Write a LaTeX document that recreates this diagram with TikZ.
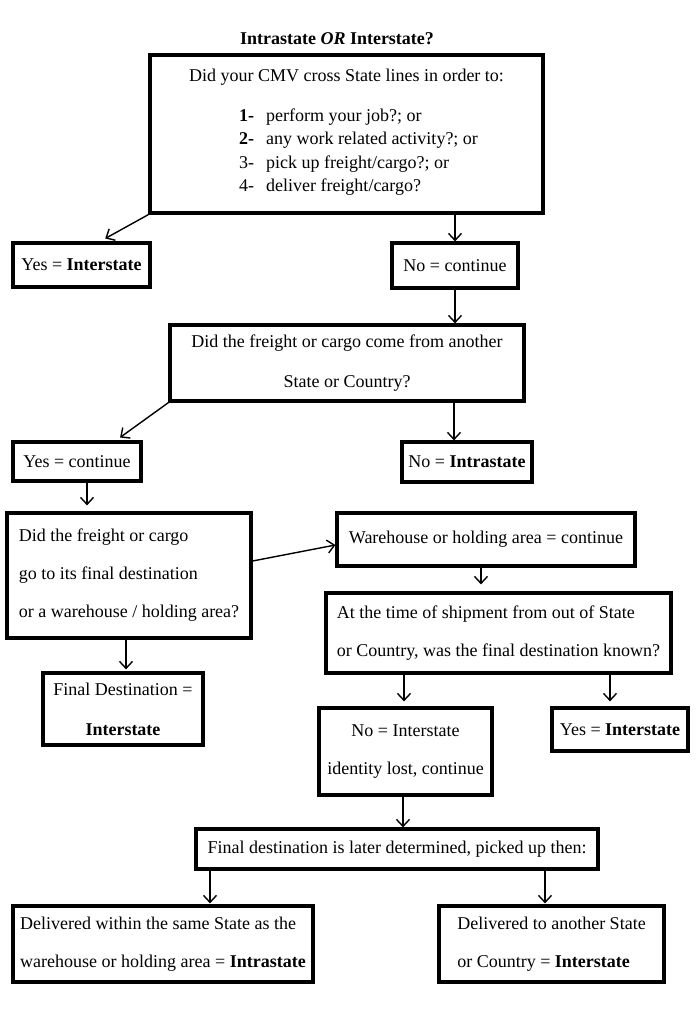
\documentclass[tikz,border=0pt]{standalone}
\usepackage{fontspec}
\setmainfont{Liberation Serif}
\usetikzlibrary{arrows.meta}
\begin{document}
\begin{tikzpicture}[x=1pt,y=-1pt,
  box/.style={draw=black, line width=3.2pt, inner sep=0pt, font=\fontsize{18}{38}\selectfont},
  conn/.style={line width=1.4pt, -{Straight Barb[length=7pt,width=13pt]}},
  ttl/.style={font=\fontsize{18}{22}\selectfont\bfseries}
]
\useasboundingbox (0,0) rectangle (700,1021);

\node[ttl] (title) at (337,39) {Intrastate \textit{OR} Interstate?};

\node[box, minimum width=393pt, minimum height=158pt, align=center,
      font=\fontsize{18}{23.5}\selectfont] (b1) at (346.5,134)
  {Did your CMV cross State lines in order to:\\[16.5pt]
   \hspace*{24pt}\begin{tabular}[t]{@{}l@{\hspace{12pt}}l@{}}
   \textbf{1-} & perform your job?; or\\
   \textbf{2-} & any work related activity?; or\\
   3- & pick up freight/cargo?; or\\
   4- & deliver freight/cargo?
   \end{tabular}};

\node[box, minimum width=137pt, minimum height=44pt] (yes1) at (81.5,265) {Yes = \textbf{Interstate}};
\node[box, minimum width=126pt, minimum height=45pt] (no1) at (455,265.5) {No = continue};

\node[box, minimum width=354pt, minimum height=76pt, align=center,
      font=\fontsize{18}{40}\selectfont] (q2) at (347,363)
  {Did the freight or cargo come from another\\State or Country?};

\node[box, minimum width=128pt, minimum height=39pt] (yes2) at (77,461.5) {Yes = continue};
\node[box, minimum width=130pt, minimum height=40pt] (no2) at (467,462) {No = \textbf{Intrastate}};

\node[box, minimum width=244pt, minimum height=125pt, align=left] (q3) at (129,575.5)
  {Did the freight or cargo\\go to its final destination\\or a warehouse / holding area?};

\node[box, minimum width=298pt, minimum height=53pt] (wh) at (486,539.5) {Warehouse or holding area = continue};

\node[box, minimum width=345pt, minimum height=80pt, align=left] (q4) at (498.5,633)
  {At the time of shipment from out of State\\or Country, was the final destination known?};

\node[box, minimum width=160pt, minimum height=72pt, align=center,
      font=\fontsize{18}{40}\selectfont] (fd) at (123,709)
  {Final Destination =\\\textbf{Interstate}};

\node[box, minimum width=173pt, minimum height=87pt, align=center] (no3) at (405.5,751.5)
  {No = Interstate\\identity lost, continue};
\node[box, minimum width=136pt, minimum height=43pt] (yes3) at (620,729.5) {Yes = \textbf{Interstate}};

\node[box, minimum width=402pt, minimum height=40pt] (q5) at (397,849)
  {Final destination is later determined, picked up then:};

\node[box, minimum width=300pt, minimum height=76pt, align=left] (d1) at (163,944)
  {Delivered within the same State as the\\warehouse or holding area = \textbf{Intrastate}};
\node[box, minimum width=225pt, minimum height=76pt, align=left] (d2) at (551.5,944)
  {Delivered to another State\\or Country = \textbf{Interstate}};

% connectors
\draw[conn, shorten >=6pt] (b1.south west) -- ([xshift=18.5pt]yes1.north);
\draw[conn] (b1.south -| no1.north) -- (no1.north);
\draw[conn] (no1.south) -- (no1.south |- q2.north);
\draw[conn, shorten >=5pt] (q2.south west) -- ([xshift=39pt]yes2.north);
\draw[conn] ([xshift=-13pt]no2.north |- q2.south) -- ([xshift=-13pt]no2.north);
\draw[conn, shorten >=6pt] ([xshift=10pt]yes2.south) -- ([xshift=10pt]yes2.south |- q3.north);
\draw[conn] ([yshift=14.5pt]q3.east) -- ([yshift=-5.5pt]wh.west);
\draw[conn, shorten >=7pt] ([xshift=-5pt]wh.south) -- ([xshift=-5pt]wh.south |- q4.north);
\draw[conn, shorten >=2pt] ([xshift=-3pt]q3.south) -- ([xshift=-3pt]q3.south |- fd.north);
\draw[conn, shorten >=5pt] ([xshift=-1.5pt]no3.north |- q4.south) -- ([xshift=-1.5pt]no3.north);
\draw[conn, shorten >=5pt] ([xshift=-10pt]yes3.north |- q4.south) -- ([xshift=-10pt]yes3.north);
\draw[conn] ([xshift=-2.5pt]no3.south) -- ([xshift=-2.5pt]no3.south |- q5.north);
\draw[conn, shorten >=1pt] ([xshift=47pt]d1.north |- q5.south) -- ([xshift=47pt]d1.north);
\draw[conn, shorten >=1pt] ([xshift=-6.5pt]d2.north |- q5.south) -- ([xshift=-6.5pt]d2.north);
\end{tikzpicture}
\end{document}
